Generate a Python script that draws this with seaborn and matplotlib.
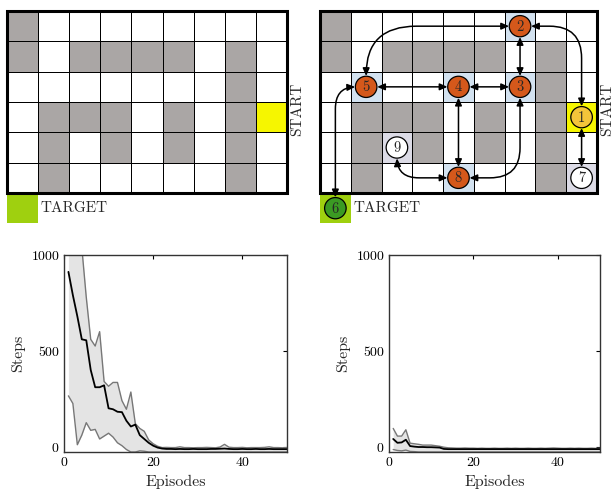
import numpy as np
import pandas as pd
import matplotlib
matplotlib.use("Agg")
import matplotlib.pyplot as plt
import seaborn as sns
from matplotlib.colors import ListedColormap
from matplotlib.patches import Rectangle, Circle, FancyArrowPatch

# --- grid world (0 free, 1 wall, 2 start, 3 visited node cell, 4 other node cell)
left_grid = [
    [1, 0, 0, 0, 0, 0, 0, 0, 0],
    [1, 0, 1, 1, 1, 1, 0, 1, 0],
    [0, 0, 0, 0, 0, 0, 0, 1, 0],
    [0, 1, 1, 1, 0, 1, 0, 1, 2],
    [0, 1, 0, 1, 0, 1, 0, 1, 0],
    [0, 1, 0, 0, 0, 0, 0, 1, 0],
]
right_grid = [
    [1, 0, 0, 0, 0, 0, 3, 0, 0],
    [1, 0, 1, 1, 1, 1, 0, 1, 0],
    [0, 3, 0, 0, 3, 0, 3, 1, 0],
    [0, 1, 1, 1, 0, 1, 0, 1, 2],
    [0, 1, 4, 1, 0, 1, 0, 1, 0],
    [0, 1, 0, 0, 3, 0, 0, 1, 4],
]
cell_colors = ["#ffffff", "#aaa6a5", "#f6f600", "#d3e2f0", "#dcdbe6"]

# graph nodes (column, row) and their fill
node_labels = ["1", "2", "3", "4", "5", "6", "7", "8", "9"]
node_cols = [8, 6, 6, 4, 1, 0, 8, 4, 2]
node_rows = [3, 0, 2, 2, 2, 6, 5, 5, 4]
node_fill = ["#f4c43a", "#d4581b", "#d4581b", "#d4581b", "#d4581b",
             "#3b9a23", "#ffffff", "#d4581b", "#ffffff"]

# edges: (from, to, angleA, angleB, rad) ; None -> straight
edges = [
    ("5", "2", 90, 0, 50),
    ("2", "1", 0, 90, 32),
    ("2", "3", None, None, 0),
    ("3", "4", None, None, 0),
    ("4", "5", None, None, 0),
    ("4", "8", None, None, 0),
    ("3", "8", 90, 0, 30),
    ("9", "8", 90, 0, 22),
    ("5", "6", 0, 90, 22),
    ("1", "7", None, None, 0),
]

# --- learning curves (steps per episode)
episodes = list(range(1, 51))
left_mean = [912, 790, 680, 560, 555, 400, 310, 310, 320, 200,
             195, 182, 180, 135, 105, 115, 60, 40, 20, 5,
             -5, -10, -12, -12, -13, -12, -13, -13, -12, -13,
             -13, -13, -12, -12, -11, -10, -12, -13, -13, -12,
             -13, -13, -12, -13, -13, -12, -13, -13, -13, -13]
left_upper = [1500, 1400, 1250, 1040, 780, 560, 525, 600, 340, 315,
              335, 335, 240, 195, 285, 120, 95, 80, 35, 15,
              2, -5, -4, -5, -5, -1, -5, -5, -6, -5,
              -5, -4, -5, -6, -2, 12, -3, -5, -5, -4,
              -6, -5, -5, -5, -4, -1, -5, -5, -6, -5]
left_lower = [265, 225, 10, 60, 125, 85, 90, 40, 55, 70,
              50, 20, 5, -15, -28, -28, -22, -24, -28, -28,
              -28, -28, -28, -28, -28, -28, -28, -28, -28, -28,
              -28, -28, -28, -28, -28, -28, -28, -28, -28, -28,
              -28, -28, -28, -28, -28, -28, -28, -28, -28, -28]
right_mean = [40, 20, 22, 36, 3, 0, -2, -2, -3, -3,
              -4, -5, -12, -13, -13, -13, -13, -13, -13, -13,
              -13, -13, -13, -13, -13, -13, -13, -13, -13, -13,
              -13, -13, -13, -13, -13, -13, -13, -13, -13, -13,
              -13, -13, -13, -13, -13, -13, -13, -13, -13, -13]
right_upper = [95, 55, 55, 88, 18, 15, 12, 8, 8, 8,
               5, 2, -3, -6, -7, -8, -8, -7, -8, -8,
               -9, -8, -9, -9, -8, -9, -9, -8, -9, -8,
               -9, -9, -8, -9, -9, -8, -9, -8, -7, -8,
               -9, -9, -8, -9, -8, -9, -9, -8, -9, -9]
right_lower = [-15, -20, -22, -18, -25, -26, -28, -28, -28, -28,
               -28, -28, -28, -28, -28, -28, -28, -28, -28, -28,
               -28, -28, -28, -28, -28, -28, -28, -28, -28, -28,
               -28, -28, -28, -28, -28, -28, -28, -28, -28, -28,
               -28, -28, -28, -28, -28, -28, -28, -28, -28, -28]

sns.set_theme(style="white")
plt.rcParams["font.family"] = ["cmr10", "DejaVu Serif"]
plt.rcParams["axes.formatter.use_mathtext"] = True
plt.rcParams["mathtext.fontset"] = "cm"


def draw_grid(ax, grid, with_nodes):
    cmap = ListedColormap(cell_colors)
    sns.heatmap(np.array(grid), ax=ax, cmap=cmap, vmin=-0.5, vmax=4.5, cbar=False,
                linewidths=0.5, linecolor="black", xticklabels=False, yticklabels=False)
    ax.add_patch(Rectangle((0, 0), 9, 6, fill=False, ec="black", lw=2.2, zorder=5, clip_on=False))
    ax.add_patch(Rectangle((0, 6), 1, 1, fc="#9fd00f", ec="none", clip_on=False, zorder=2))
    ax.text(1.08, 6.5, "TARGET", ha="left", va="center", fontsize=11, clip_on=False)
    ax.text(9.1, 3.25, "START", ha="left", va="center", rotation=90, fontsize=11, clip_on=False)
    if not with_nodes:
        return
    circles = {}
    for lab, c, r, fc in zip(node_labels, node_cols, node_rows, node_fill):
        circ = Circle((c + 0.5, r + 0.5), 0.35, fc=fc, ec="black", lw=0.9, zorder=6, clip_on=False)
        ax.add_patch(circ)
        circles[lab] = circ
        ax.text(c + 0.5, r + 0.52, lab, ha="center", va="center", fontsize=10.5, zorder=7, clip_on=False)
    for a, b, angA, angB, rad in edges:
        if angA is None:
            cs = "arc3,rad=0"
        else:
            cs = f"angle,angleA={angA},angleB={angB},rad={rad}"
        arr = FancyArrowPatch(circles[a].center, circles[b].center,
                              arrowstyle="<|-|>,head_length=0.45,head_width=0.2",
                              mutation_scale=10, connectionstyle=cs,
                              patchA=circles[a], patchB=circles[b], shrinkA=0.5, shrinkB=0.5,
                              lw=1.1, color="black", zorder=5, clip_on=False)
        ax.add_patch(arr)


def plot_steps(ax, mean, upper, lower):
    df = pd.DataFrame({"Episode": episodes, "mean": mean, "upper": upper, "lower": lower})
    ax.fill_between(df["Episode"], df["lower"], df["upper"], color="#e4e4e4", lw=0)
    sns.lineplot(data=df, x="Episode", y="upper", ax=ax, color="#777777", lw=1.0)
    sns.lineplot(data=df, x="Episode", y="lower", ax=ax, color="#777777", lw=1.0)
    sns.lineplot(data=df, x="Episode", y="mean", ax=ax, color="black", lw=1.3)
    ax.set_xlim(0, 50)
    ax.set_ylim(-28, 1000)
    ax.set_xticks([0, 20, 40])
    ax.set_yticks([0, 500, 1000])
    ax.tick_params(direction="in", top=True, right=True, length=3, width=0.8,
                   labelsize=10, pad=3, colors="black")
    for sp in ax.spines.values():
        sp.set_color("#333333")
        sp.set_linewidth(1.0)
    ax.set_xlabel("Episodes", fontsize=11.5, labelpad=4)
    ax.set_ylabel("Steps", fontsize=11.5, labelpad=4)


fig = plt.figure(figsize=(6.15, 4.92), dpi=100)
ax_g1 = fig.add_axes([0.0114, 0.6077, 0.4553, 0.3699])
ax_g2 = fig.add_axes([0.5203, 0.6077, 0.4504, 0.3699])
ax_s1 = fig.add_axes([0.104, 0.0813, 0.3626, 0.4004])
ax_s2 = fig.add_axes([0.6325, 0.0813, 0.343, 0.4004])

draw_grid(ax_g1, left_grid, False)
draw_grid(ax_g2, right_grid, True)
plot_steps(ax_s1, left_mean, left_upper, left_lower)
plot_steps(ax_s2, right_mean, right_upper, right_lower)

fig.savefig("out.png", dpi=100)
